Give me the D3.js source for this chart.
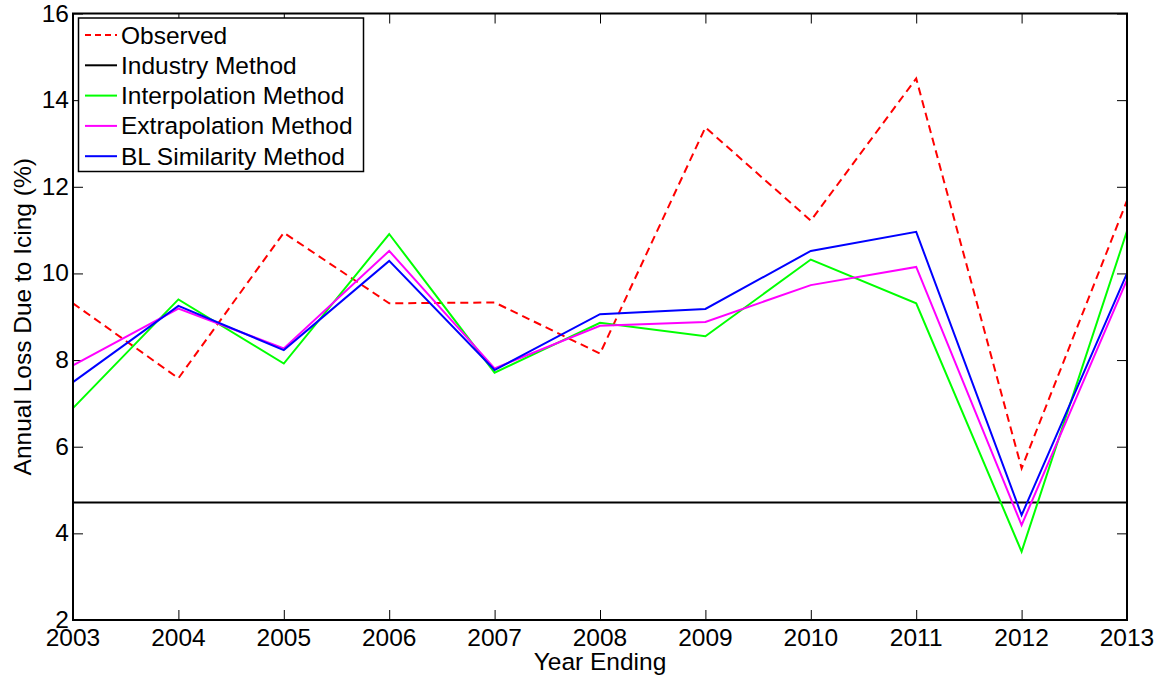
<!DOCTYPE html>
<html>
<head>
<meta charset="utf-8">
<script src="https://cdn.jsdelivr.net/npm/d3@7"></script>
<style>
  body { margin: 0; background: #fff; }
  svg text { font-family: "Liberation Sans", Arial, sans-serif; fill: #000; }
</style>
</head>
<body>
<svg id="svg" width="1167" height="678"></svg>
<script>
const years = [2003, 2004, 2005, 2006, 2007, 2008, 2009, 2010, 2011, 2012, 2013];
const observed = [9.31, 7.58, 10.94, 9.31, 9.33, 8.15, 13.37, 11.22, 14.5, 5.5, 11.68];
const industry = [4.71, 4.71, 4.71, 4.71, 4.71, 4.71, 4.71, 4.71, 4.71, 4.71, 4.71];
const interpolation = [6.89, 9.4, 7.92, 10.91, 7.71, 8.86, 8.55, 10.32, 9.31, 3.58, 10.98];
const extrapolation = [7.88, 9.19, 8.27, 10.52, 7.81, 8.79, 8.88, 9.73, 10.15, 4.19, 9.85];
const blSimilarity = [7.49, 9.25, 8.23, 10.29, 7.77, 9.06, 9.18, 10.52, 10.96, 4.42, 10.0];
const yTicks = [2, 4, 6, 8, 10, 12, 14, 16];

const series = [
  { name: "Observed", values: observed, color: "#ff0000", dash: "8,5" },
  { name: "Industry Method", values: industry, color: "#000000", dash: null },
  { name: "Interpolation Method", values: interpolation, color: "#00ff00", dash: null },
  { name: "Extrapolation Method", values: extrapolation, color: "#ff00ff", dash: null },
  { name: "BL Similarity Method", values: blSimilarity, color: "#0000ff", dash: null }
];

const plotLeft = 73, plotRight = 1127, plotTop = 13.5, plotBottom = 620;
const fontSize = 24.5;
const svg = d3.select("#svg");

const x = d3.scaleLinear().domain([2003, 2013]).range([plotLeft, plotRight]);
const y = d3.scaleLinear().domain([2, 16]).range([plotBottom, plotTop]);

// ticks on all four sides, pointing in
const tickLen = 10;
svg.append("g")
  .attr("transform", `translate(0,${plotBottom})`)
  .call(d3.axisTop(x).tickValues(years).tickSize(tickLen).tickFormat(""))
  .call((g) => g.select(".domain").remove());
svg.append("g")
  .attr("transform", `translate(0,${plotTop})`)
  .call(d3.axisBottom(x).tickValues(years).tickSize(tickLen).tickFormat(""))
  .call((g) => g.select(".domain").remove());
svg.append("g")
  .attr("transform", `translate(${plotLeft},0)`)
  .call(d3.axisRight(y).tickValues(yTicks).tickSize(tickLen).tickFormat(""))
  .call((g) => g.select(".domain").remove());
svg.append("g")
  .attr("transform", `translate(${plotRight},0)`)
  .call(d3.axisLeft(y).tickValues(yTicks).tickSize(tickLen).tickFormat(""))
  .call((g) => g.select(".domain").remove());
svg.selectAll(".tick line").attr("stroke", "#000").attr("stroke-width", 1);

// tick labels
svg.append("g")
  .selectAll("text")
  .data(years)
  .enter()
  .append("text")
  .attr("x", (d) => x(d))
  .attr("y", plotBottom + 26)
  .attr("text-anchor", "middle")
  .attr("font-size", fontSize)
  .text((d) => d);
svg.append("g")
  .selectAll("text")
  .data(yTicks)
  .enter()
  .append("text")
  .attr("x", plotLeft - 4)
  .attr("y", (d) => y(d) + 8)
  .attr("text-anchor", "end")
  .attr("font-size", fontSize)
  .text((d) => d);

// lines
const line = d3.line()
  .x((d, i) => x(years[i]))
  .y((d) => y(d));

svg.append("g")
  .selectAll("path")
  .data(series)
  .enter()
  .append("path")
  .attr("d", (d) => line(d.values))
  .attr("fill", "none")
  .attr("stroke", (d) => d.color)
  .attr("stroke-width", 2)
  .attr("stroke-dasharray", (d) => d.dash);

// frame
svg.append("rect")
  .attr("x", plotLeft).attr("y", plotTop)
  .attr("width", plotRight - plotLeft).attr("height", plotBottom - plotTop)
  .attr("fill", "none").attr("stroke", "#000").attr("stroke-width", 2);

// axis titles
svg.append("text")
  .attr("x", (plotLeft + plotRight) / 2)
  .attr("y", 670)
  .attr("text-anchor", "middle")
  .attr("font-size", fontSize)
  .text("Year Ending");
svg.append("text")
  .attr("transform", `translate(31,${(plotTop + plotBottom) / 2}) rotate(-90)`)
  .attr("text-anchor", "middle")
  .attr("font-size", fontSize)
  .text("Annual Loss Due to Icing (%)");

// legend
const legend = svg.append("g");
legend.append("rect")
  .attr("x", 78.5).attr("y", 18)
  .attr("width", 285).attr("height", 153.5)
  .attr("fill", "#fff").attr("stroke", "#000").attr("stroke-width", 1.5);
const rows = legend.selectAll("g.row")
  .data(series)
  .enter()
  .append("g")
  .attr("class", "row")
  .attr("transform", (d, i) => `translate(0,${35 + i * 30.3})`);
rows.append("line")
  .attr("x1", 85).attr("x2", 117)
  .attr("stroke", (d) => d.color)
  .attr("stroke-width", 2)
  .attr("stroke-dasharray", (d) => (d.dash ? "6,4" : null));
rows.append("text")
  .attr("x", 121)
  .attr("y", 8.5)
  .attr("font-size", fontSize)
  .text((d) => d.name);
</script>
</body>
</html>
